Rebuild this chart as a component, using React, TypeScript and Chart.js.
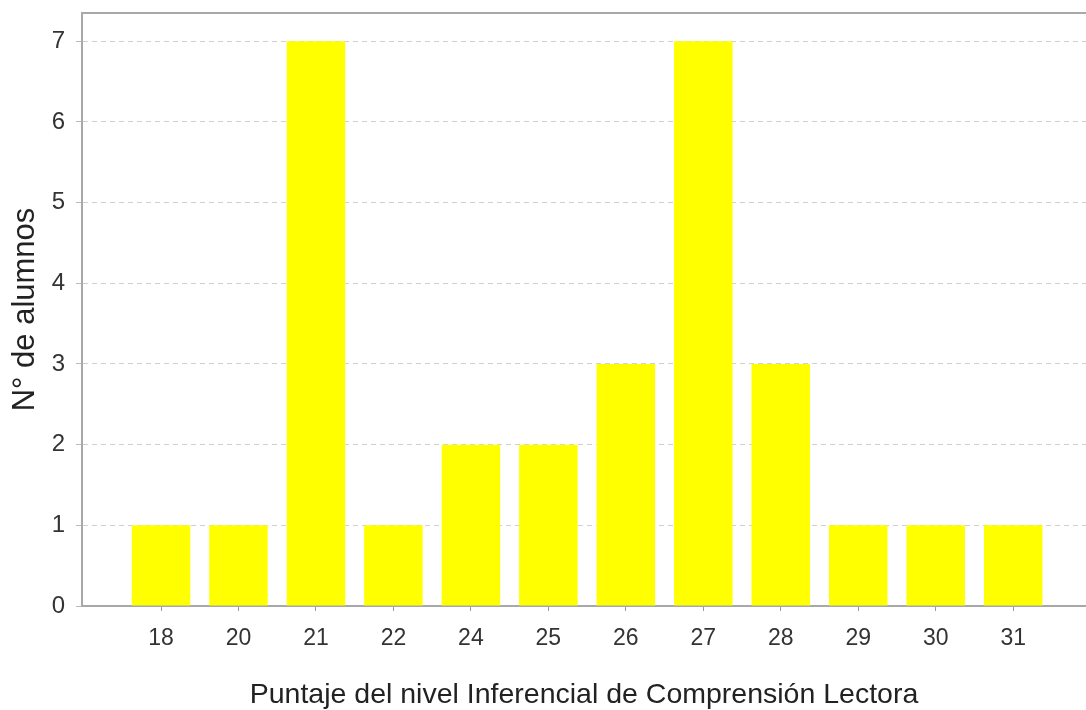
import React, { useEffect, useRef } from "react";
import { Chart, registerables } from "chart.js";

Chart.register(...registerables);

const categories = ["18", "20", "21", "22", "24", "25", "26", "27", "28", "29", "30", "31"];
const counts = [1, 1, 7, 1, 2, 2, 3, 7, 3, 1, 1, 1];
const yTicks = [0, 1, 2, 3, 4, 5, 6, 7];
const xTitle = "Puntaje del nivel Inferencial de Comprensión Lectora";
const yTitle = "N° de alumnos";

const topBorder = {
  id: "topBorder",
  afterDraw(chart: any) {
    const { ctx, chartArea } = chart;
    ctx.save();
    ctx.strokeStyle = "#a8a8a8";
    ctx.lineWidth = 2;
    ctx.beginPath();
    ctx.moveTo(chartArea.left - 1, chartArea.top);
    ctx.lineTo(chartArea.right + 2, chartArea.top);
    ctx.stroke();
    ctx.restore();
  },
};

export default function App() {
  const ref = useRef<HTMLCanvasElement>(null);
  useEffect(() => {
    if (!ref.current) return;
    const chart = new Chart(ref.current, {
      type: "bar",
      data: {
        datasets: [
          {
            data: counts.map((v, i) => ({ x: i, y: v })),
            backgroundColor: "#FFFF00",
            borderWidth: 0,
            categoryPercentage: 1,
            barPercentage: 0.755,
          },
        ],
      },
      options: {
        animation: false,
        responsive: false,
        layout: { padding: { top: 13, right: 0, left: 0, bottom: 0 } },
        plugins: { legend: { display: false }, tooltip: { enabled: false } },
        scales: {
          x: {
            type: "linear",
            offset: false,
            min: -1.02,
            max: 11.94,
            afterBuildTicks: (s: any) => {
              s.ticks = categories.map((_, i) => ({ value: i }));
            },
            afterFit: (s: any) => {
              s.height = 104;
              s.paddingLeft = 0;
              s.paddingRight = 0;
            },
            ticks: {
              autoSkip: false,
              maxRotation: 0,
              padding: 14,
              color: "#333",
              font: { family: "Liberation Sans", size: 23 },
              callback: (v: any) => categories[v] ?? "",
            },
            grid: {
              display: true,
              offset: false,
              drawOnChartArea: false,
              drawTicks: true,
              tickLength: 5,
              tickColor: "#999",
              tickWidth: 1,
            },
            border: { display: true, color: "#a8a8a8", width: 2 },
            title: {
              display: true,
              text: xTitle,
              color: "#222",
              font: { family: "Liberation Sans", size: 28.5 },
              padding: { top: 0, bottom: -2 },
            },
          },
          y: {
            min: 0,
            max: 7.35,
            afterBuildTicks: (s: any) => {
              s.ticks = yTicks.map((v) => ({ value: v }));
            },
            afterFit: (s: any) => {
              s.width = 82;
              s.paddingTop = 0;
              s.paddingBottom = 0;
            },
            ticks: {
              padding: 11,
              color: "#333",
              font: { family: "Liberation Sans", size: 24 },
            },
            grid: {
              color: "#d0d0d0",
              lineWidth: 1,
              tickLength: 6,
              tickColor: "#bbb",
              tickBorderDash: [],
              tickWidth: 1,
            },
            border: { display: true, color: "#a8a8a8", width: 2, dash: [5, 4] },
            title: {
              display: true,
              text: yTitle,
              color: "#222",
              font: { family: "Liberation Sans", size: 31 },
              padding: { top: 7, bottom: 0 },
            },
          },
        },
      },
      plugins: [topBorder],
    } as any);
    return () => chart.destroy();
  }, []);
  return (
    <div style={{ position: "fixed", left: 0, top: 0, width: 1086, height: 710, background: "#fff" }}>
      <canvas ref={ref} width={1086} height={710} style={{ display: "block" }} />
    </div>
  );
}
